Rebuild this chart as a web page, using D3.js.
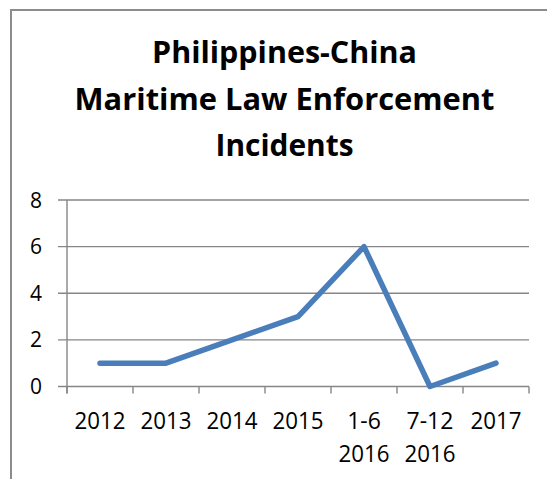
<!DOCTYPE html>
<html>
<head>
<meta charset="utf-8">
<script src="https://cdn.jsdelivr.net/npm/d3@7"></script>
<style>
  html, body { margin: 0; padding: 0; background: #fff; }
  svg { display: block; }
  text { font-family: "Open Sans", Lato, sans-serif; fill: #000; }
</style>
</head>
<body>
<svg id="chart" width="547" height="479"></svg>
<script>
const categories = [["2012"], ["2013"], ["2014"], ["2015"], ["1-6", "2016"], ["7-12", "2016"], ["2017"]];
const values = [1, 1, 2, 3, 6, 0, 1];
const yTicks = [0, 2, 4, 6, 8];
const titleLines = ["Philippines-China", "Maritime Law Enforcement", "Incidents"];
const titleWidths = [265, 420, 138];

const svg = d3.select("#chart");

// outer chart border (extends past right/bottom edges)
svg.append("rect")
  .attr("x", 11).attr("y", 10)
  .attr("width", 600).attr("height", 600)
  .attr("fill", "none").attr("stroke", "#8c8c8c").attr("stroke-width", 2);

// title
const title = svg.append("g");
const titleBase = [63, 109.5, 156];
titleLines.forEach((t, i) => {
  title.append("text")
    .attr("x", 284.5).attr("y", titleBase[i])
    .attr("text-anchor", "middle")
    .attr("font-weight", "bold")
    .attr("font-size", 30)
    .attr("textLength", titleWidths[i])
    .attr("lengthAdjust", "spacingAndGlyphs")
    .text(t);
});

const plot = { left: 67, right: 529, top: 200, bottom: 386.5 };

const x = d3.scaleBand()
  .domain(d3.range(categories.length))
  .range([plot.left, plot.right])
  .paddingInner(0).paddingOuter(0);

const y = d3.scaleLinear().domain([0, 8]).range([plot.bottom, plot.top]);

const gridColor = "#868686";

// gridlines + y ticks
svg.append("g")
  .selectAll("line")
  .data(yTicks)
  .join("line")
  .attr("x1", plot.left - 9).attr("x2", plot.right)
  .attr("y1", d => y(d)).attr("y2", d => y(d))
  .attr("stroke", gridColor).attr("stroke-width", 1.4);

// y axis line
svg.append("line")
  .attr("x1", plot.left).attr("x2", plot.left)
  .attr("y1", plot.top).attr("y2", plot.bottom + 7)
  .attr("stroke", gridColor).attr("stroke-width", 1.4);

// x tick marks at category boundaries
const bounds = d3.range(categories.length + 1).map(i => i < categories.length ? x(i) : x(i - 1) + x.bandwidth());
svg.append("g")
  .selectAll("line")
  .data(bounds)
  .join("line")
  .attr("x1", d => d).attr("x2", d => d)
  .attr("y1", plot.bottom).attr("y2", plot.bottom + 7)
  .attr("stroke", gridColor).attr("stroke-width", 1.4);

// y labels
svg.append("g")
  .selectAll("text")
  .data(yTicks)
  .join("text")
  .attr("x", 42)
  .attr("y", d => y(d))
  .attr("dy", "0.36em")
  .attr("text-anchor", "end")
  .attr("font-size", 21)
  .text(d => d);

// x labels
const xl = svg.append("g");
categories.forEach((lines, i) => {
  lines.forEach((l, j) => {
    xl.append("text")
      .attr("x", x(i) + x.bandwidth() / 2)
      .attr("y", 429 + j * 33)
      .attr("text-anchor", "middle")
      .attr("font-size", 23)
      .attr("textLength", l.length === 4 && /^\d+$/.test(l) ? 51 : null)
      .attr("lengthAdjust", "spacingAndGlyphs")
      .text(l);
  });
});

// series line
const line = d3.line()
  .x((d, i) => x(i) + x.bandwidth() / 2)
  .y(d => y(d));

svg.append("path")
  .datum(values)
  .attr("d", line)
  .attr("fill", "none")
  .attr("stroke", "#4a7ebb")
  .attr("stroke-width", 5.5)
  .attr("stroke-linecap", "round")
  .attr("stroke-linejoin", "round");
</script>
</body>
</html>
